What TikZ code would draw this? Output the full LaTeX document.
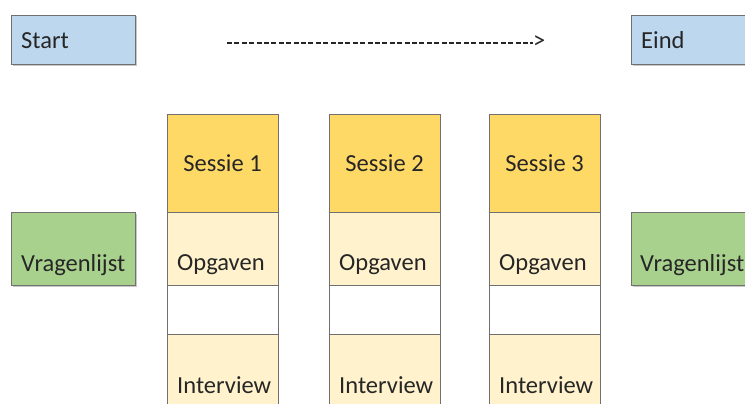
\documentclass[tikz,border=0pt]{standalone}
\usepackage{fontspec}
\setmainfont{Carlito}
\definecolor{startblue}{HTML}{BDD7EE}
\definecolor{listgreen}{HTML}{A9D18E}
\definecolor{sessgold}{HTML}{FFD966}
\definecolor{taskcream}{HTML}{FFF2CC}
\definecolor{edgegray}{HTML}{707070}
\definecolor{shadegray}{HTML}{C8C8C8}
\begin{document}
\begin{tikzpicture}[x=1pt,y=-1pt,
  box/.style={draw=edgegray, line width=1pt, anchor=north west, inner sep=0pt},
  shade/.style={fill=shadegray},
  lbl/.style={font=\fontsize{24.5}{29}\selectfont, inner sep=0pt, anchor=base west, text=black!85},
  clbl/.style={font=\fontsize{24.5}{29}\selectfont, inner sep=0pt, anchor=base, text=black!85},
  timeline/.style={dash pattern=on 5pt off 2.4pt, line width=2pt, black!85}]
\useasboundingbox (0,0) rectangle (745,404);
\clip (0,0) rectangle (745,404);

% start and end boxes
\fill[shade] (12.5,16.5) rectangle (137,66);
\node[box, fill=startblue, minimum width=124, minimum height=49] (start) at (11,15) {};
\node[lbl] (startT) at (21,49) {Start};
\fill[shade] (632.5,16.5) rectangle (760,66);
\node[box, fill=startblue, minimum width=130, minimum height=49] (eind) at (631,15) {};
\node[lbl] (eindT) at (641,49) {Eind};

% time line between start and end
\node[lbl] (tip) at (533,49) {>};
\coordinate (tl) at (227,43);
\draw[timeline] (tl) -- (tip.west |- tl);

% questionnaire boxes
\fill[shade] (12.5,213.5) rectangle (137,287);
\node[box, fill=listgreen, minimum width=124, minimum height=73] (vl1) at (11,212) {};
\node[lbl] (vl1T) at (21,271) {Vragenlijst};
\fill[shade] (632.5,213.5) rectangle (760,287);
\node[box, fill=listgreen, minimum width=130, minimum height=73] (vl2) at (631,212) {};
\node[lbl] (vl2T) at (640,271) {Vragenlijst};

% session columns
\foreach \i/\x in {1/167, 2/329, 3/489}{
  \node[box, fill=sessgold, minimum width=111, minimum height=98] (s\i) at (\x,114) {};
  \node[box, fill=taskcream, minimum width=111, minimum height=73] (o\i) at (\x,212) {};
  \node[box, fill=white, minimum width=111, minimum height=49] (g\i) at (\x,285) {};
  \node[box, fill=taskcream, minimum width=111, minimum height=90] (iv\i) at (\x,334) {};
  \node[clbl] (s\i T) at (\x+55.5,171) {Sessie \i};
  \node[lbl] (o\i T) at (\x+10,270) {Opgaven};
  \node[lbl] (iv\i T) at (\x+10,393) {Interview};
}
\end{tikzpicture}
\end{document}
